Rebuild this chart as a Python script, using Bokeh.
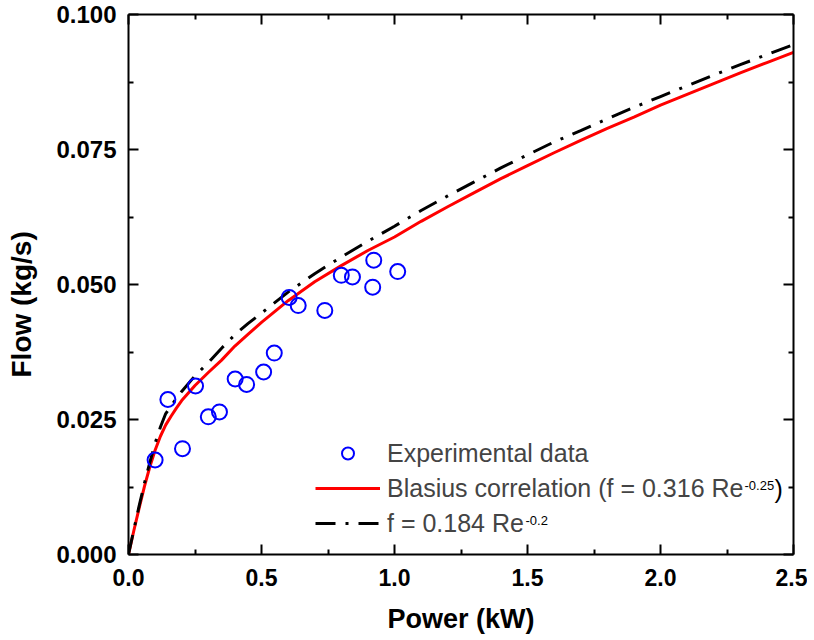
from bokeh.plotting import figure
from bokeh.models import (Range1d, LinearAxis, FixedTicker, PrintfTickFormatter,
                          Legend, LegendItem, Label, Title)
from bokeh.embed import file_html
from bokeh.resources import INLINE

# ---- data ----
exp_power = [0.10, 0.148, 0.203, 0.252, 0.300, 0.342, 0.401, 0.444, 0.508, 0.548,
             0.604, 0.638, 0.738, 0.800, 0.842, 0.922, 0.918, 1.012]
exp_flow = [0.0175, 0.0287, 0.0196, 0.0312, 0.0255, 0.0264, 0.0325, 0.0315, 0.0338, 0.0373,
            0.0476, 0.0461, 0.0452, 0.0517, 0.0514, 0.0545, 0.0495, 0.0524]

curve_power = [0.0, 0.02, 0.04, 0.06, 0.08, 0.10, 0.12, 0.14, 0.16, 0.18, 0.20, 0.25,
               0.30, 0.35, 0.40, 0.45, 0.50, 0.60, 0.70, 0.80, 0.90, 1.00, 1.10, 1.20,
               1.30, 1.40, 1.50, 1.60, 1.70, 1.80, 1.90, 2.00, 2.10, 2.20, 2.30, 2.40, 2.50]
blasius_flow = [0.0, 0.0044, 0.0086, 0.0126, 0.0162, 0.0193, 0.0219, 0.0240, 0.0256, 0.0271,
                0.0285, 0.0313, 0.0337, 0.0360, 0.0386, 0.0408, 0.0430, 0.0470, 0.0505,
                0.0535, 0.0563, 0.0588, 0.0617, 0.0644, 0.0670, 0.0696, 0.0720, 0.0744,
                0.0767, 0.0789, 0.0810, 0.0832, 0.0852, 0.0872, 0.0892, 0.0911, 0.0930]
alt_flow = [0.0, 0.0046, 0.0090, 0.0132, 0.0170, 0.0206, 0.0236, 0.0261, 0.0275, 0.0289,
            0.0302, 0.0331, 0.0355, 0.0382, 0.0407, 0.0428, 0.0447, 0.0486, 0.0520,
            0.0551, 0.0580, 0.0608, 0.0637, 0.0664, 0.0690, 0.0716, 0.0740, 0.0764,
            0.0785, 0.0807, 0.0828, 0.0848, 0.0868, 0.0888, 0.0907, 0.0926, 0.0944]

x_ticks = [0.0, 0.5, 1.0, 1.5, 2.0, 2.5]
x_minor = [0.25, 0.75, 1.25, 1.75, 2.25]
y_ticks = [0.0, 0.025, 0.05, 0.075, 0.1]
y_minor = [0.0125, 0.0375, 0.0625, 0.0875]

FONT = "Liberation Sans"

p = figure(frame_width=665, frame_height=540, min_border_left=128, min_border_top=14,
           min_border_right=14, min_border_bottom=10,
           x_range=Range1d(0, 2.5), y_range=Range1d(0, 0.1),
           output_backend="svg", toolbar_location=None,
           x_axis_label="Power (kW)")
p.grid.visible = False
p.outline_line_color = None
p.background_fill_color = "white"

red = p.line(curve_power, blasius_flow, line_color="#ff0000", line_width=3)
blk = p.line(curve_power, alt_flow, line_color="black", line_width=3, line_dash="20 10 3 10")
sc = p.scatter(exp_power, exp_flow, marker="circle", size=15, fill_color=None,
               line_color="#0000ff", line_width=2)

xt = FixedTicker(ticks=x_ticks, minor_ticks=x_minor)
yt = FixedTicker(ticks=y_ticks, minor_ticks=y_minor)

def style_axis(ax, ticker, labels=True):
    ax.ticker = ticker
    ax.axis_line_width = 2
    ax.axis_line_color = "black"
    ax.major_tick_in = 10
    ax.major_tick_out = 0
    ax.minor_tick_in = 5
    ax.minor_tick_out = 0
    ax.major_tick_line_width = 2
    ax.minor_tick_line_width = 2
    ax.major_label_text_font = FONT
    ax.major_label_text_font_style = "bold"
    ax.major_label_text_font_size = "24px"
    ax.major_label_text_color = "black"
    ax.axis_label_text_font = FONT
    ax.axis_label_text_font_style = "bold"
    ax.axis_label_text_font_size = "27px"
    ax.axis_label_text_color = "black"
    if not labels:
        ax.major_label_text_font_size = "0px"
        ax.major_label_text_alpha = 0

style_axis(p.xaxis[0], xt)
style_axis(p.yaxis[0], yt)
p.xaxis[0].formatter = PrintfTickFormatter(format="%.1f")
p.yaxis[0].formatter = PrintfTickFormatter(format="%.3f")
p.xaxis[0].major_label_text_font_size = "23px"
p.xaxis[0].major_label_standoff = 14
p.yaxis[0].major_label_standoff = 12
p.xaxis[0].axis_label_standoff = 15

top = LinearAxis()
style_axis(top, xt, labels=False)
p.add_layout(top, "above")
right = LinearAxis()
style_axis(right, yt, labels=False)
p.add_layout(right, "right")

# blank gap between the y tick labels and the y title
gap = Title(text=" ", text_font_size="2px", standoff=9)
p.add_layout(gap, "left")

# y-axis title (placed a little below the frame centre, as in the reference)
ytitle = Title(text="Flow (kg/s)", align="left", offset=177, vertical_align="bottom",
               standoff=7, text_font=FONT, text_font_style="bold", text_font_size="28px",
               text_color="black")
p.add_layout(ytitle, "left")

legend = Legend(items=[
    LegendItem(label="Experimental data", renderers=[sc]),
    LegendItem(label="Blasius correlation (f = 0.316 Re", renderers=[red]),
    LegendItem(label="f = 0.184 Re", renderers=[blk]),
], location=(187, 16), label_text_font=FONT, label_text_font_size="25px",
   glyph_width=65, glyph_height=30, label_height=30, label_standoff=7, spacing=5,
   padding=0, margin=0, border_line_color=None, background_fill_alpha=0)
p.add_layout(legend, "center")

# reference image pixels -> data units (frame: x 128..793, y 14..554)
def dx(px):
    return (px - 128) / 266.0

def dy(py):
    return (554 - py) / 5400.0

# superscripts of the legend texts
p.add_layout(Label(x=dx(744), y=dy(485), text="-0.25", text_font=FONT, text_font_size="13px",
                   text_baseline="alphabetic", text_color="black"))
p.add_layout(Label(x=dx(774), y=dy(488), text=")", text_font=FONT, text_font_size="25px",
                   text_baseline="middle", text_color="black"))
p.add_layout(Label(x=dx(525), y=dy(520), text="-0.2", text_font=FONT, text_font_size="13px",
                   text_baseline="alphabetic", text_color="black"))

open("out.html", "w").write(file_html(p, INLINE))
